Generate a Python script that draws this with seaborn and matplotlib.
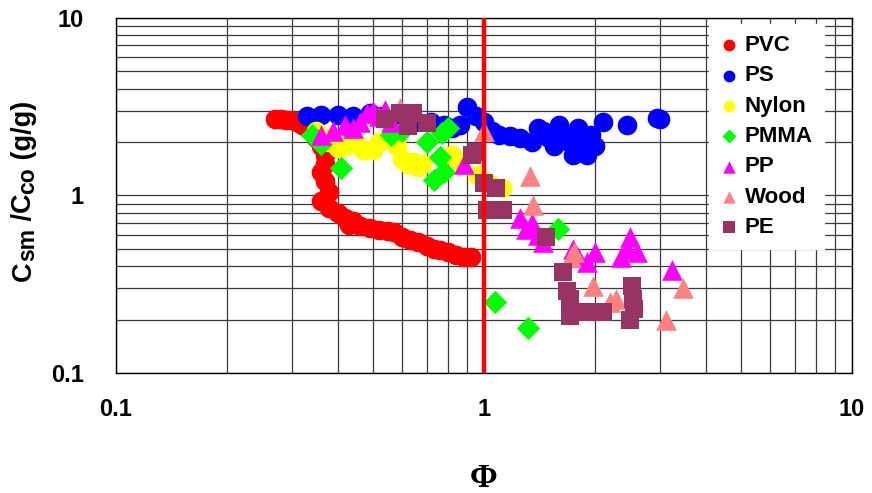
import numpy as np
import pandas as pd
import matplotlib
matplotlib.use("Agg")
import matplotlib.pyplot as plt
import seaborn as sns
from matplotlib.ticker import FixedLocator, FixedFormatter, NullFormatter
from matplotlib.transforms import IdentityTransform

# ---------------- data ----------------
pvc_x = [0.27, 0.28, 0.29, 0.30, 0.31, 0.32, 0.33, 0.34, 0.35, 0.36, 0.37, 0.37, 0.36, 0.37, 0.38,
         0.36, 0.38, 0.40, 0.42, 0.44, 0.43, 0.46, 0.49, 0.52, 0.55, 0.57, 0.60, 0.63, 0.66, 0.70,
         0.73, 0.76, 0.80, 0.84, 0.88, 0.92]
pvc_y = [2.70, 2.70, 2.65, 2.65, 2.60, 2.50, 2.40, 2.30, 2.10, 1.90, 1.70, 1.50, 1.35, 1.20, 1.05,
         0.93, 0.85, 0.80, 0.75, 0.72, 0.68, 0.67, 0.66, 0.64, 0.63, 0.62, 0.58, 0.56, 0.55, 0.52,
         0.50, 0.49, 0.48, 0.46, 0.45, 0.45]

ps_x = [0.33, 0.36, 0.40, 0.44, 0.49, 0.53, 0.60, 0.65, 0.72, 0.78, 0.82, 0.86, 0.90, 0.95, 1.00,
        1.05, 1.10, 1.18, 1.25, 1.35, 1.40, 1.45, 1.50, 1.55, 1.60, 1.65, 1.70, 1.75, 1.80, 1.85,
        1.90, 1.95, 2.00, 2.10, 2.45, 2.95, 3.00]
ps_y = [2.80, 2.85, 2.85, 2.80, 2.90, 2.80, 2.75, 2.60, 2.60, 2.50, 2.40, 2.50, 3.15, 2.80, 2.60,
        2.30, 2.20, 2.15, 2.10, 2.00, 2.40, 2.30, 2.10, 1.90, 2.50, 2.20, 2.00, 1.70, 2.40, 1.90,
        1.70, 2.20, 1.90, 2.60, 2.50, 2.75, 2.70]

nylon_x = [0.35, 0.37, 0.38, 0.40, 0.42, 0.45, 0.47, 0.50, 0.52, 0.58, 0.60, 0.62, 0.64, 0.66,
           0.68, 0.82, 0.86, 0.96, 1.00, 1.05, 1.12]
nylon_y = [2.30, 2.10, 2.00, 1.85, 1.90, 2.00, 1.80, 1.80, 2.00, 1.90, 1.60, 1.50, 1.55, 1.45,
           1.50, 1.70, 1.55, 1.30, 1.20, 1.15, 1.10]

pmma_x = [0.34, 0.36, 0.41, 0.56, 0.60, 0.70, 0.73, 0.76, 0.77, 0.78, 0.80, 1.07, 1.32, 1.59]
pmma_y = [2.20, 1.95, 1.43, 2.20, 2.30, 2.00, 1.22, 1.65, 2.25, 1.35, 2.40, 0.25, 0.18, 0.65]

pp_x = [0.36, 0.39, 0.42, 0.44, 0.46, 0.48, 0.50, 0.52, 0.54, 0.56, 0.88, 1.25, 1.30, 1.35, 1.40,
        1.45, 1.75, 1.80, 1.90, 2.00, 2.35, 2.45, 2.50, 2.60, 3.25]
pp_y = [2.20, 2.30, 2.50, 2.40, 2.60, 2.90, 3.00, 2.80, 3.05, 2.60, 1.50, 0.75, 0.65, 0.70, 0.60,
        0.55, 0.50, 0.45, 0.42, 0.48, 0.45, 0.50, 0.58, 0.48, 0.38]

wood_x = [0.59, 1.00, 1.33, 1.36, 1.72, 1.76, 1.98, 2.20, 2.28, 3.12, 3.47]
wood_y = [3.10, 2.30, 1.28, 0.88, 0.45, 0.48, 0.31, 0.25, 0.26, 0.20, 0.30]

pe_x = [0.54, 0.59, 0.64, 0.62, 0.70, 0.93, 0.96, 1.00, 1.02, 1.08, 1.13, 1.47, 1.64, 1.68, 1.71,
        1.71, 1.85, 1.98, 2.10, 2.52, 2.54, 2.50, 2.56]
pe_y = [2.70, 2.90, 2.90, 2.45, 2.55, 1.70, 1.75, 1.17, 0.83, 1.10, 0.83, 0.58, 0.37, 0.29, 0.26,
        0.21, 0.22, 0.22, 0.22, 0.31, 0.26, 0.20, 0.23]

materials = ["PVC", "PS", "Nylon", "PMMA", "PP", "Wood", "PE"]
series_x = [pvc_x, ps_x, nylon_x, pmma_x, pp_x, wood_x, pe_x]
series_y = [pvc_y, ps_y, nylon_y, pmma_y, pp_y, wood_y, pe_y]
colors = ["#FF0000", "#0000FF", "#FFFF00", "#00FF00", "#FF00FF", "#FF8080", "#993366"]
markers = ["o", "o", "o", "D", "^", "^", "s"]
sizes = [200, 200, 200, 140, 220, 220, 175]

tick_vals = [0.1, 1, 10]
tick_labels = ["0.1", "1", "10"]
stoich_x = 1.0

# y-label pieces: (text, is_subscript)
ylabel_parts = [("C", False), ("sm", True), (" /C", False), ("co", True), (" (g/g)", False)]
xlabel_text = "Φ"

frames = []
for m, xs, ys in zip(materials, series_x, series_y):
    frames.append(pd.DataFrame({"phi": xs, "ratio": ys, "material": m}))
df = pd.concat(frames, ignore_index=True)

# ---------------- style ----------------
sns.set_style("white")
plt.rcParams["font.family"] = ["Liberation Sans", "DejaVu Sans"]
for k in ("text.color", "axes.labelcolor", "xtick.color", "ytick.color", "xtick.labelcolor", "ytick.labelcolor"):
    plt.rcParams[k] = "black"

fig = plt.figure(figsize=(8.72, 4.93), dpi=100)
ax = fig.add_axes([0.133, 0.2434, 0.844, 0.7201])

for m, c, mk, s in zip(materials, colors, markers, sizes):
    sub = df[df["material"] == m]
    sns.scatterplot(data=sub, x="phi", y="ratio", ax=ax, color=c, marker=mk, s=s,
                    linewidth=0, label=m, zorder=3)

ax.axvline(stoich_x, color="#FF0000", lw=3.2, zorder=4)

ax.set_xscale("log")
ax.set_yscale("log")
ax.set_xlim(0.1, 10)
ax.set_ylim(0.1, 10)

minor = [k * d for d in (0.1, 1) for k in range(2, 10)]
for axis in (ax.xaxis, ax.yaxis):
    axis.set_major_locator(FixedLocator(tick_vals))
    axis.set_major_formatter(FixedFormatter(tick_labels))
    axis.set_minor_locator(FixedLocator(minor))
    axis.set_minor_formatter(NullFormatter())

ax.grid(True, which="both", color="#3a3a3a", lw=0.9, zorder=0)
ax.set_axisbelow(True)
ax.tick_params(which="both", direction="in", length=5, width=0.9, color="black")
ax.tick_params(axis="y", which="major", pad=23, labelsize=17)
ax.tick_params(axis="x", which="major", pad=18, labelsize=17)
for lab in ax.get_xticklabels() + ax.get_yticklabels():
    lab.set_fontweight("bold")

for sp in ax.spines.values():
    sp.set_color("black")
    sp.set_linewidth(1.0)

ax.set_xlabel(xlabel_text, family=["Liberation Serif", "DejaVu Serif"], fontsize=24,
              fontweight="bold", va="center")
ax.xaxis.set_label_coords(0.5, (373 - 478) / 355)
ax.set_ylabel("")

leg = ax.legend(loc="upper right", bbox_to_anchor=(0.962, 0.983), frameon=True,
                fancybox=False, framealpha=1, edgecolor="white", markerscale=0.6,
                handlelength=0.8, handletextpad=0.3, labelspacing=0.42, borderpad=0.5,
                borderaxespad=0,
                prop={"family": "Liberation Sans", "weight": "bold", "size": 16})
leg.set_zorder(5)

# ---------------- y label built from pieces (sub-scripts slightly smaller & lowered) ----------------
H = 493
main_size, sub_size = 19.5, 16.5
base_x = 31       # baseline x in pixels (rotated text, glyph tops point left)
sub_shift = 3     # subscript lowered -> shifted right in pixels
renderer = fig.canvas.get_renderer()
texts = []
for txt, is_sub in ylabel_parts:
    t = fig.text(0, 0, txt, rotation=90, rotation_mode="anchor", ha="left", va="baseline",
                 fontsize=sub_size if is_sub else main_size, fontweight="bold",
                 transform=IdentityTransform())
    texts.append((t, is_sub))
lengths = [t.get_window_extent(renderer).height for t, _ in texts]
total = sum(lengths)
center_y = H - 191
cur = center_y - total / 2
for (t, is_sub), L in zip(texts, lengths):
    t.set_position((base_x + (sub_shift if is_sub else 0), cur))
    cur += L

fig.savefig("out.png", dpi=100)
